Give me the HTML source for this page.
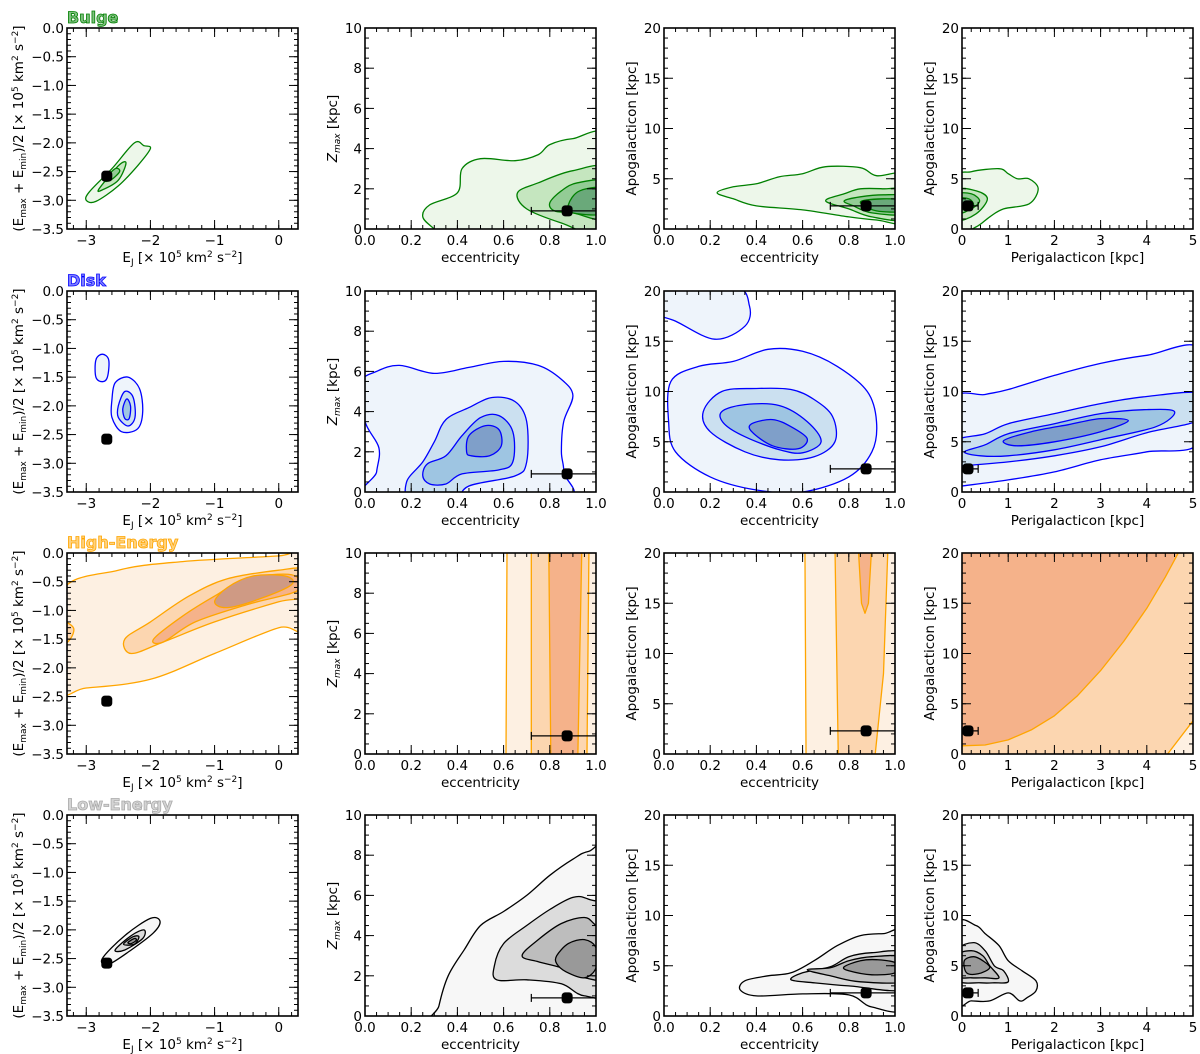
<!DOCTYPE html>
<html><head><meta charset="utf-8">
<style>
html,body{margin:0;padding:0;background:#fff;}
svg{display:block;font-family:"DejaVu Sans","Liberation Sans",sans-serif;}
</style></head>
<body>
<svg id="fig" width="1200" height="1054" viewBox="0 0 1200 1054" xmlns="http://www.w3.org/2000/svg"></svg>
<script>
// ---- data (contour level polygons in data coordinates) ----
const rowNames = ["Bulge","Disk","High-Energy","Low-Energy"];
const rowLine = ["#008000","#0000ff","#ffa500","#000000"];
const rowTitleColor = ["#008000","#0000ff","#ffa500","#aaaaaa"];
const rowFills = [
  ["#edf7ea","#c5e6bf","#93cc95","#6aa97a"],
  ["#eef4fb","#cbe0f0","#9ec5e2","#7f9fc9"],
  ["#fdf0e2","#fcd6b0","#f5b28a","#cf9a84"],
  ["#f7f7f7","#dcdcdc","#bdbdbd","#999999"]
];
const starEj = -2.68, starE = -2.58;
const starEcc = 0.875, starEccLo = 0.72, starEccHi = 1.0;
const starZmax = 0.9, starApo = 2.3;
const starPeri = 0.13, starPeriLo = 0.0, starPeriHi = 0.35;

// Bulge
const c00 = [
 [[-3.0,-3.0],[-2.95,-2.85],[-2.6,-2.45],[-2.25,-2.0],[-2.1,-2.05],[-2.0,-2.1],[-2.2,-2.4],[-2.5,-2.75],[-2.85,-3.02]],
 [[-2.8,-2.8],[-2.5,-2.4],[-2.38,-2.35],[-2.5,-2.65],[-2.75,-2.82]],
 [[-2.72,-2.65],[-2.55,-2.45],[-2.48,-2.5],[-2.62,-2.65]]
];
const c01 = [
 [[0.25,0.6],[0.28,1.2],[0.4,1.8],[0.42,3.0],[0.5,3.5],[0.65,3.4],[0.75,3.7],[0.8,4.2],[0.9,4.5],[1.05,4.5],[1.05,-0.5],[0.35,-0.5],[0.3,0]],
 [[0.66,1.8],[0.75,2.3],[0.9,2.9],[1.05,2.9],[1.05,-0.3],[0.85,0.3],[0.7,1.0]],
 [[0.8,1.3],[0.85,1.9],[0.92,2.3],[1.05,2.3],[1.05,0.5],[0.9,0.8],[0.82,0.9]],
 [[0.88,1.2],[0.93,1.9],[1.05,2.0],[1.05,0.8],[0.9,0.8]]
];
const c02 = [
 [[0.23,3.6],[0.3,4.2],[0.4,4.5],[0.5,5.2],[0.6,5.5],[0.7,6.2],[0.85,6.1],[0.92,5.3],[1.05,5.3],[1.05,0.8],[0.92,0.9],[0.8,1.2],[0.6,1.9],[0.4,2.3],[0.3,3.0]],
 [[0.7,2.8],[0.78,3.5],[0.85,4.0],[0.95,4.0],[1.05,3.8],[1.05,1.0],[0.9,1.2],[0.8,2.0]],
 [[0.78,2.8],[0.85,3.2],[0.95,3.4],[1.05,3.2],[1.05,1.5],[0.9,1.6],[0.82,2.3]],
 [[0.85,2.7],[0.95,3.0],[1.05,2.8],[1.05,1.8],[0.92,1.8]]
];
const c03 = [
 [[-0.1,5],[0.2,5.7],[0.8,6.0],[1.0,5.5],[1.2,5.0],[1.45,5.0],[1.65,4.0],[1.45,2.5],[0.9,2.0],[0.6,1.2],[0.3,0.2],[-0.1,-0.3]],
 [[-0.1,3.8],[0.3,3.8],[0.55,3.0],[0.3,1.5],[-0.1,1.0]],
 [[-0.1,3.4],[0.2,3.5],[0.38,2.8],[0.2,2.0],[-0.1,1.6]],
 [[-0.1,3.0],[0.15,3.0],[0.25,2.4],[0.1,2.0],[-0.1,2.0]]
];
// Disk
const c10 = [
 [[-2.75,-1.1],[-2.65,-1.2],[-2.67,-1.5],[-2.75,-1.58],[-2.85,-1.5],[-2.85,-1.2]],
 [[-2.6,-1.9],[-2.55,-1.6],[-2.35,-1.5],[-2.17,-1.7],[-2.12,-2.1],[-2.2,-2.4],[-2.45,-2.45],[-2.6,-2.2]],
 [[-2.5,-2.0],[-2.4,-1.75],[-2.27,-1.85],[-2.24,-2.2],[-2.35,-2.35],[-2.5,-2.2]],
 [[-2.43,-2.05],[-2.37,-1.88],[-2.31,-2.0],[-2.33,-2.22],[-2.4,-2.22]]
];
const c11 = [
 [[0,3.5],[-0.02,5.4],[0.05,6.0],[0.15,6.3],[0.3,5.9],[0.45,6.2],[0.6,6.5],[0.75,6.3],[0.85,5.6],[0.9,4.8],[0.86,3.5],[0.85,2.0],[0.86,1.0],[0.84,-0.5],[0.03,-0.5],[0.05,1],[0.06,2.2]],
 [[0.18,0.5],[0.25,1.5],[0.3,2.5],[0.35,3.6],[0.45,4.2],[0.55,4.7],[0.65,4.5],[0.7,3.5],[0.7,1.5],[0.65,0.8],[0.45,0.3],[0.38,-0.5],[0.2,-0.5]],
 [[0.25,0.8],[0.27,1.4],[0.35,1.8],[0.42,2.8],[0.5,3.7],[0.58,3.8],[0.64,3.0],[0.64,1.5],[0.58,1.1],[0.42,0.9],[0.35,0.4],[0.28,0.4]],
 [[0.44,2.0],[0.45,2.8],[0.52,3.3],[0.58,3.1],[0.59,2.3],[0.54,1.8],[0.46,1.8]]
];
const c12 = [
 [[-0.05,18],[0.05,17],[0.22,15.2],[0.35,16.5],[0.37,18.5],[0.3,20.5],[-0.05,20.5]],
 [[0.02,7],[0.03,11],[0.15,12.5],[0.3,13],[0.45,14.2],[0.6,14],[0.75,12.5],[0.88,10],[0.92,7],[0.9,4],[0.8,1.5],[0.6,0],[0.4,0.2],[0.2,1.5],[0.05,4]],
 [[0.17,8],[0.25,10],[0.4,10.3],[0.55,10.2],[0.65,9.2],[0.73,7.5],[0.74,5],[0.65,3.5],[0.5,3.2],[0.35,4],[0.2,6]],
 [[0.25,8],[0.35,8.7],[0.5,8.6],[0.62,7],[0.68,5],[0.6,3.9],[0.5,4.2],[0.35,5.5],[0.26,6.8]],
 [[0.38,6.8],[0.47,7.2],[0.55,6.5],[0.62,5.3],[0.58,4.3],[0.47,4.6],[0.38,6]]
];
const c12lvl = [0,0,1,2,3];
const c13 = [
 [[-0.2,9],[0.5,9.7],[1,10.2],[2,11.6],[3,12.8],[4,13.6],[5.2,14.1],[5.2,5.2],[4,4.0],[3,3.2],[2,2.0],[1,1.2],[0,0.6],[-0.2,0.5]],
 [[-0.2,5],[0.5,5.8],[1,6.8],[2,7.8],[3,8.8],[4,9.5],[5.2,9.8],[5.2,7.3],[4,5.9],[3,4.5],[2,3.6],[1,3.0],[0,2.6],[-0.2,2.6]],
 [[0.05,4.0],[0.5,4.7],[1,5.8],[2,6.8],[3,7.8],[4,8.2],[4.6,8.0],[4.2,6.5],[3,5.2],[2,4.2],[1,3.6],[0.4,3.6]],
 [[0.9,5.1],[1.5,6.0],[2.3,6.7],[3.0,7.3],[3.6,7.1],[3.0,6.0],[2,5.0],[1.2,4.6]]
];
const c10lvl = [0,0,1,2];
// High-Energy
const c20 = [
 [[-3.4,-0.7],[-2.5,-0.3],[-1.5,-0.15],[0,-0.05],[0.4,0],[0.4,-1.3],[0,-1.3],[-1,-1.75],[-2,-2.2],[-3,-2.35],[-3.4,-2.35]],
 [[-3.4,-1.2],[-3.2,-1.3],[-3.25,-1.5],[-3.4,-1.6]],
 [[-2.4,-1.5],[-2,-1.2],[-1.4,-0.75],[-0.8,-0.45],[0,-0.3],[0.4,-0.3],[0.4,-0.75],[0,-0.85],[-1,-1.2],[-1.8,-1.55],[-2.3,-1.75]],
 [[-1.95,-1.5],[-1.5,-1.1],[-1.0,-0.75],[-0.5,-0.45],[0.2,-0.38],[0.3,-0.65],[-0.5,-0.9],[-1.3,-1.2],[-1.8,-1.55]],
 [[-1.0,-0.85],[-0.8,-0.6],[-0.4,-0.4],[0.1,-0.4],[0.2,-0.55],[-0.3,-0.8],[-0.8,-0.95]]
];
const c20lvl = [0,1,1,2,3];
const c21 = [
 [[0.61,-1],[0.615,11],[1.1,11],[1.1,-1]],
 [[0.72,-1],[0.72,11],[0.97,11],[0.96,-1]],
 [[0.805,-1],[0.795,11],[0.94,11],[0.92,-1]]
];
const c22 = [
 [[0.615,-1],[0.61,21],[1.1,21],[1.1,-1]],
 [[0.755,-1],[0.74,21],[0.97,21],[0.95,8],[0.91,-1]],
 [[0.84,21],[0.855,15],[0.87,14],[0.885,15],[0.9,21]]
];
const c23 = [
 [[-1,-1],[-1,21],[6,21],[6,-1]],
 [[-1,-1],[-1,21],[6,21],[6,4.5],[5,3.3],[4.45,0],[4.3,-1]],
 [[-0.1,0.8],[0.5,0.9],[1,1.4],[1.5,2.4],[2,3.8],[2.5,5.8],[3,8.3],[3.5,11.2],[4,14.5],[4.4,17.6],[4.75,20.6],[4.8,22],[-0.1,22]]
];
// Low-Energy
const c30 = [
 [[-2.75,-2.5],[-2.4,-2.1],[-2.0,-1.8],[-1.85,-1.85],[-1.95,-2.05],[-2.3,-2.35],[-2.65,-2.6]],
 [[-2.55,-2.35],[-2.3,-2.1],[-2.1,-2.0],[-2.12,-2.15],[-2.4,-2.35]],
 [[-2.42,-2.25],[-2.27,-2.12],[-2.18,-2.12],[-2.25,-2.25]],
 [[-2.35,-2.22],[-2.25,-2.15],[-2.22,-2.18],[-2.3,-2.24]]
];
const c31 = [
 [[0.3,-1],[0.32,0.5],[0.36,2],[0.43,3.3],[0.5,4.5],[0.6,5.2],[0.7,6],[0.8,7],[0.9,7.8],[0.97,8.2],[1.1,8.3],[1.1,-1]],
 [[0.56,2.5],[0.6,3.6],[0.7,4.5],[0.8,5.3],[0.9,5.9],[0.97,5.8],[1.1,5],[1.1,1.2],[0.95,1.0],[0.85,1.6],[0.7,1.8],[0.57,1.8]],
 [[0.68,3.0],[0.75,3.8],[0.85,4.6],[0.95,4.9],[1.0,4.5],[1.1,3.5],[1.1,1.8],[0.95,1.9],[0.85,2.4],[0.75,2.7]],
 [[0.83,3.0],[0.88,3.6],[0.95,3.8],[1.0,3.4],[1.0,2.4],[0.95,1.9],[0.87,2.2],[0.83,2.6]]
];
const c32 = [
 [[0.33,2.6],[0.35,3.5],[0.45,4.0],[0.55,4.3],[0.65,5.5],[0.75,7.0],[0.85,8.0],[0.95,8.2],[1.05,8.2],[1.05,1.0],[0.9,0.9],[0.8,2.1],[0.6,2.2],[0.4,2.0]],
 [[0.55,3.6],[0.6,4.3],[0.72,4.9],[0.8,5.9],[0.9,6.3],[1.05,6.2],[1.05,2.7],[0.8,3.0],[0.65,3.3]],
 [[0.62,4.6],[0.72,4.8],[0.8,5.5],[0.9,5.9],[1.05,5.8],[1.05,3.5],[0.85,3.4],[0.72,4.0]],
 [[0.78,4.9],[0.85,5.5],[0.92,5.6],[1.0,5.3],[1.0,4.3],[0.9,4.1],[0.8,4.5]]
];
const c33 = [
 [[-0.1,9],[0.3,9.0],[0.5,8.2],[0.8,7.0],[1.0,5.5],[1.3,4.5],[1.6,3.5],[1.6,2.5],[1.4,1.8],[1.25,1.5],[1.0,2.3],[0.6,1.5],[0.2,1.5],[-0.1,1.5]],
 [[-0.1,6.5],[0.25,7.3],[0.5,6.5],[0.7,5.0],[0.9,4.5],[1.0,3.4],[0.7,3.3],[0.4,3.3],[-0.1,3.6]],
 [[-0.1,6.0],[0.2,6.5],[0.45,6.0],[0.6,5.0],[0.8,3.8],[0.5,3.8],[0.2,3.8],[-0.1,4.0]],
 [[0.05,5.5],[0.25,5.9],[0.45,5.5],[0.6,4.8],[0.35,4.2],[0.1,4.3]]
];

const colLefts = [67, 365, 664, 962];
const rowTops = [28, 291, 553, 815];
const PW = 231, PH = 201;

const NS = "http://www.w3.org/2000/svg";
const svg = document.getElementById("fig");
function mk(tag, attrs, parent){
  const e = document.createElementNS(NS, tag);
  for (const k in attrs) e.setAttribute(k, attrs[k]);
  (parent||svg).appendChild(e);
  return e;
}
function smoothPath(pts){
  const n = pts.length;
  let d = "M" + pts[0][0].toFixed(1) + "," + pts[0][1].toFixed(1);
  for (let i=0;i<n;i++){
    const p0=pts[(i-1+n)%n], p1=pts[i], p2=pts[(i+1)%n], p3=pts[(i+2)%n];
    const c1=[p1[0]+(p2[0]-p0[0])/6, p1[1]+(p2[1]-p0[1])/6];
    const c2=[p2[0]-(p3[0]-p1[0])/6, p2[1]-(p3[1]-p1[1])/6];
    d += " C"+c1[0].toFixed(1)+","+c1[1].toFixed(1)+" "+c2[0].toFixed(1)+","+c2[1].toFixed(1)+" "+p2[0].toFixed(1)+","+p2[1].toFixed(1);
  }
  return d + " Z";
}
const colCfg = [
  {xr:[-3.3,0.3], yr:[-3.5,0], xmaj:[-3,-2,-1,0], xlab:["−3","−2","−1","0"], xmin:0.2, ymaj:[-3.5,-3,-2.5,-2,-1.5,-1,-0.5,0], ylab:["−3.5","−3.0","−2.5","−2.0","−1.5","−1.0","−0.5","0.0"], ymin:0.1},
  {xr:[0,1], yr:[0,10], xmaj:[0,0.2,0.4,0.6,0.8,1], xlab:["0.0","0.2","0.4","0.6","0.8","1.0"], xmin:0.05, ymaj:[0,2,4,6,8,10], ylab:["0","2","4","6","8","10"], ymin:0.5},
  {xr:[0,1], yr:[0,20], xmaj:[0,0.2,0.4,0.6,0.8,1], xlab:["0.0","0.2","0.4","0.6","0.8","1.0"], xmin:0.05, ymaj:[0,5,10,15,20], ylab:["0","5","10","15","20"], ymin:1},
  {xr:[0,5], yr:[0,20], xmaj:[0,1,2,3,4,5], xlab:["0","1","2","3","4","5"], xmin:0.2, ymaj:[0,5,10,15,20], ylab:["0","5","10","15","20"], ymin:1}
];
const contours = [[c00,c01,c02,c03],[c10,c11,c12,c13],[c20,c21,c22,c23],[c30,c31,c32,c33]];
const levelMaps = {"1-0":c10lvl,"1-2":c12lvl,"2-0":c20lvl};

function drawPanel(r, c){
  const cfg = colCfg[c];
  const L = colLefts[c], T = rowTops[r];
  const sx = v => L + (v-cfg.xr[0])/(cfg.xr[1]-cfg.xr[0])*PW;
  const sy = v => T + PH - (v-cfg.yr[0])/(cfg.yr[1]-cfg.yr[0])*PH;
  const g = mk("g", {});
  
  
  const cid = "clip"+r+"_"+c;
  const cp = mk("clipPath",{id:cid}, g);
  mk("rect",{x:L,y:T,width:PW,height:PH}, cp);
  const cg = mk("g",{"clip-path":"url(#"+cid+")"}, g);
  const levels = contours[r][c];
  const lmap = levelMaps[r+"-"+c];
  levels.forEach((poly,i)=>{
    const lvl = lmap ? lmap[i] : i;
    const pts = poly.map(p=>[sx(p[0]), sy(p[1])]);
    let isPoly = (r===2 && c!==0);
    if (r===2 && c===3 && i===2) isPoly = false;
    let d;
    if (isPoly) d = "M"+pts.map(p=>p[0].toFixed(1)+","+p[1].toFixed(1)).join(" L")+" Z";
    else if (r===2 && c===3) {
      // open curve along data points, closed via straight edges at top-left
      d = "M"+pts.map(p=>p[0].toFixed(1)+","+p[1].toFixed(1)).join(" L")+" Z";
    } else d = smoothPath(pts);
    const p = mk("path",{d:d, fill:rowFills[r][Math.min(lvl,3)], stroke:(r===2&&c===3&&i===0)?"none":rowLine[r], "stroke-width":1.3, "stroke-linejoin":"round"}, cg);
    
    
  });
  let px, py, lo=null, hi=null;
  if (c===0){ px=starEj; py=starE; }
  else if (c===1){ px=starEcc; py=starZmax; lo=starEccLo; hi=starEccHi; }
  else if (c===2){ px=starEcc; py=starApo; lo=starEccLo; hi=starEccHi; }
  else { px=starPeri; py=starApo; lo=starPeriLo; hi=starPeriHi; }
  if (lo!==null){
    const eb = mk("g",{stroke:"#000","stroke-width":1.2}, cg);
    
    
    mk("line",{x1:sx(lo),x2:sx(hi),y1:sy(py),y2:sy(py)}, eb);
    mk("line",{x1:sx(lo),x2:sx(lo),y1:sy(py)-4,y2:sy(py)+4}, eb);
    mk("line",{x1:sx(hi),x2:sx(hi),y1:sy(py)-4,y2:sy(py)+4}, eb);
  }
  const m = mk("rect",{x:sx(px)-5.5,y:sy(py)-5.5,width:11,height:11,rx:3.5,fill:"#000"}, cg);
  
  
  const tk = mk("g",{stroke:"#000","stroke-width":1}, g);
  
  
  for (let v=cfg.xr[0]; v<=cfg.xr[1]+1e-9; v+=cfg.xmin){
    const vv = Math.round(v/cfg.xmin)*cfg.xmin; const x=sx(vv);
    if (x<L-0.5||x>L+PW+0.5) continue;
    mk("line",{x1:x,x2:x,y1:T+PH,y2:T+PH-4},tk); mk("line",{x1:x,x2:x,y1:T,y2:T+4},tk);
  }
  for (let v=cfg.yr[0]; v<=cfg.yr[1]+1e-9; v+=cfg.ymin){
    const y=sy(v);
    mk("line",{x1:L,x2:L+4,y1:y,y2:y},tk); mk("line",{x1:L+PW,x2:L+PW-4,y1:y,y2:y},tk);
  }
  const lab = mk("g",{"font-size":"13.5",fill:"#000"}, g);
  cfg.xmaj.forEach((v,i)=>{
    const x=sx(v);
    mk("line",{x1:x,x2:x,y1:T+PH,y2:T+PH-9,stroke:"#000"},tk); mk("line",{x1:x,x2:x,y1:T,y2:T+9,stroke:"#000"},tk);
    const t = mk("text",{x:x,y:T+PH+16,"text-anchor":"middle"},lab); t.textContent=cfg.xlab[i];
    
    
  });
  cfg.ymaj.forEach((v,i)=>{
    const y=sy(v);
    mk("line",{x1:L,x2:L+9,y1:y,y2:y,stroke:"#000"},tk); mk("line",{x1:L+PW,x2:L+PW-9,y1:y,y2:y,stroke:"#000"},tk);
    const t = mk("text",{x:L-3,y:y+5,"text-anchor":"end"},lab); t.textContent=cfg.ylab[i];
    
    
  });
  const fr = mk("rect",{x:L,y:T,width:PW,height:PH,fill:"none",stroke:"#000","stroke-width":1.6}, g);
  
  
  const xl = mk("text",{x:L+PW/2,y:T+PH+33,"text-anchor":"middle","font-size":"13.5"}, g);
  
  
  if (c===0) xl.innerHTML = 'E<tspan font-size="9" dy="3">J</tspan><tspan dy="-3"> [× 10</tspan><tspan font-size="9" dy="-5">5</tspan><tspan dy="5"> km</tspan><tspan font-size="9" dy="-5">2</tspan><tspan dy="5"> s</tspan><tspan font-size="9" dy="-5">−2</tspan><tspan dy="5">]</tspan>';
  else if (c===3) xl.textContent = "Perigalacticon [kpc]";
  else xl.textContent = "eccentricity";
  const yx = c===0 ? L-44 : L-28;
  const yl = mk("text",{x:0,y:0,"text-anchor":"middle","font-size":"13.5",transform:"translate("+yx+","+(T+PH/2)+") rotate(-90)"}, g);
  
  
  if (c===0) yl.innerHTML = '(E<tspan font-size="9" dy="3">max</tspan><tspan dy="-3"> + E</tspan><tspan font-size="9" dy="3">min</tspan><tspan dy="-3">)/2 [× 10</tspan><tspan font-size="9" dy="-5">5</tspan><tspan dy="5"> km</tspan><tspan font-size="9" dy="-5">2</tspan><tspan dy="5"> s</tspan><tspan font-size="9" dy="-5">−2</tspan><tspan dy="5">]</tspan>';
  else if (c===1) yl.innerHTML = '<tspan font-style="italic">Z</tspan><tspan font-size="9" font-style="italic" dy="3">max</tspan><tspan dy="-3"> [kpc]</tspan>';
  else yl.textContent = "Apogalacticon [kpc]";
}
for (let r=0;r<4;r++){
  for (let c=0;c<4;c++) drawPanel(r,c);
  const t = mk("text",{x:colLefts[0],y:rowTops[r]-5,"font-size":"16","font-weight":"bold",fill:rowTitleColor[r],stroke:rowTitleColor[r],"stroke-width":0.8,"fill-opacity":0.5});
  
  
  t.textContent = rowNames[r];
}
</script>
</body></html>
